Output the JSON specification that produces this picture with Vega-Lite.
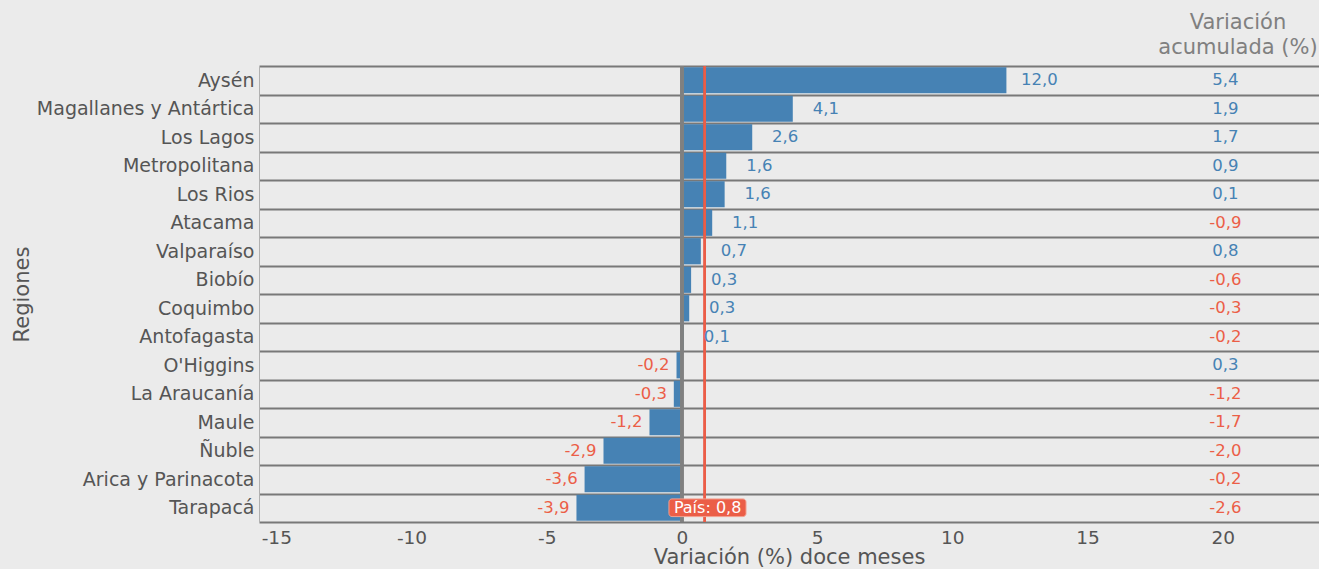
{
  "$schema": "https://vega.github.io/schema/vega-lite/v6.json",
  "width": 1060,
  "height": 456,
  "autosize": {"type": "none"},
  "padding": {"left": 259, "top": 66, "right": 0, "bottom": 47},
  "background": "#ebebeb",
  "config": {
    "locale": {"number": {"decimal": ",", "thousands": ".", "grouping": [3], "currency": ["$", ""], "minus": "-"}},
    "view": {"stroke": null},
    "font": "DejaVu Sans"
  },
  "title": {
    "text": ["Variación", "acumulada (%)"],
    "anchor": "end",
    "align": "center",
    "dx": -81,
    "fontSize": 21,
    "fontWeight": "normal",
    "color": "#808080",
    "lineHeight": 25,
    "offset": -1,
    "font": "DejaVu Sans"
  },
  "data": {
    "values": [
      {"region": "Aysén", "doce": 12.0, "acum": 5.4},
      {"region": "Magallanes y Antártica", "doce": 4.1, "acum": 1.9},
      {"region": "Los Lagos", "doce": 2.6, "acum": 1.7},
      {"region": "Metropolitana", "doce": 1.64, "acum": 0.9},
      {"region": "Los Rios", "doce": 1.58, "acum": 0.1},
      {"region": "Atacama", "doce": 1.12, "acum": -0.9},
      {"region": "Valparaíso", "doce": 0.7, "acum": 0.8},
      {"region": "Biobío", "doce": 0.34, "acum": -0.6},
      {"region": "Coquimbo", "doce": 0.27, "acum": -0.3},
      {"region": "Antofagasta", "doce": 0.07, "acum": -0.2},
      {"region": "O'Higgins", "doce": -0.2, "acum": 0.3},
      {"region": "La Araucanía", "doce": -0.3, "acum": -1.2},
      {"region": "Maule", "doce": -1.2, "acum": -1.7},
      {"region": "Ñuble", "doce": -2.9, "acum": -2.0},
      {"region": "Arica y Parinacota", "doce": -3.6, "acum": -0.2},
      {"region": "Tarapacá", "doce": -3.9, "acum": -2.6}
    ]
  },
  "layer": [
    {
      "mark": {"type": "bar", "height": {"band": 0.92}, "color": "#4682b4"},
      "encoding": {
        "y": {
          "field": "region",
          "type": "nominal",
          "sort": null,
          "scale": {"paddingInner": 0, "paddingOuter": 0},
          "axis": {
            "title": "Regiones",
            "titleFontSize": 21,
            "titleFontWeight": "normal",
            "titleColor": "#555555",
            "labelFontSize": 19,
            "labelColor": "#555555",
            "labelPadding": 5,
            "labelLimit": 400,
            "ticks": false,
            "domain": true,
            "domainColor": "#b0b0b0",
            "grid": true,
            "gridColor": "#787878",
            "gridWidth": 2,
            "tickBand": "extent",
            "titlePadding": 27
          }
        },
        "x": {
          "field": "doce",
          "type": "quantitative",
          "scale": {"domain": [-15.64, 23.56], "nice": false, "zero": false},
          "axis": {
            "values": [-15, -10, -5, 0, 5, 10, 15, 20],
            "format": "d",
            "title": "Variación (%) doce meses",
            "grid": false,
            "ticks": false,
            "domain": false,
            "labelFontSize": 18.5,
            "labelColor": "#555555",
            "labelPadding": 6,
            "titleFontSize": 21,
            "titleFontWeight": "normal",
            "titleColor": "#555555",
            "titlePadding": 0
          }
        },
        "x2": {"datum": 0}
      }
    },
    {
      "mark": {"type": "rule", "color": "#eb5e47", "strokeWidth": 2},
      "encoding": {"x": {"datum": 0.85, "type": "quantitative"}}
    },
    {
      "mark": {"type": "rule", "color": "#808080", "strokeWidth": 2.5},
      "encoding": {"x": {"datum": 0, "type": "quantitative"}}
    },
    {
      "transform": [{"filter": "datum.doce >= 0"}],
      "mark": {"type": "text", "align": "center", "baseline": "middle", "dx": 33, "fontSize": 16.5, "color": "#4682b4"},
      "encoding": {
        "y": {"field": "region", "type": "nominal", "sort": null},
        "x": {"field": "doce", "type": "quantitative"},
        "text": {"field": "doce", "type": "quantitative", "format": ".1f"}
      }
    },
    {
      "transform": [{"filter": "datum.doce < 0"}],
      "mark": {"type": "text", "align": "center", "baseline": "middle", "dx": -23, "fontSize": 16.5, "color": "#eb5e47"},
      "encoding": {
        "y": {"field": "region", "type": "nominal", "sort": null},
        "x": {"field": "doce", "type": "quantitative"},
        "text": {"field": "doce", "type": "quantitative", "format": ".1f"}
      }
    },
    {
      "mark": {"type": "text", "align": "center", "baseline": "middle", "fontSize": 16.5},
      "encoding": {
        "y": {"field": "region", "type": "nominal", "sort": null},
        "x": {"datum": 20.1, "type": "quantitative"},
        "text": {"field": "acum", "type": "quantitative", "format": ".1f"},
        "color": {"condition": {"test": "datum.acum < 0", "value": "#eb5e47"}, "value": "#4682b4"}
      }
    },
    {
      "transform": [{"filter": "datum.region === 'Tarapacá'"}],
      "mark": {"type": "bar", "height": {"band": 0.62}, "color": "#eb5e47", "cornerRadius": 3, "stroke": "#f3a090", "strokeWidth": 1},
      "encoding": {
        "y": {"field": "region", "type": "nominal", "sort": null},
        "x": {"datum": -0.48, "type": "quantitative"},
        "x2": {"datum": 2.37}
      }
    },
    {
      "transform": [{"filter": "datum.region === 'Tarapacá'"}],
      "mark": {"type": "text", "align": "center", "baseline": "middle", "fontSize": 16, "color": "white"},
      "encoding": {
        "y": {"field": "region", "type": "nominal", "sort": null},
        "x": {"datum": 0.95, "type": "quantitative"},
        "text": {"value": "País: 0,8"}
      }
    }
  ]
}
